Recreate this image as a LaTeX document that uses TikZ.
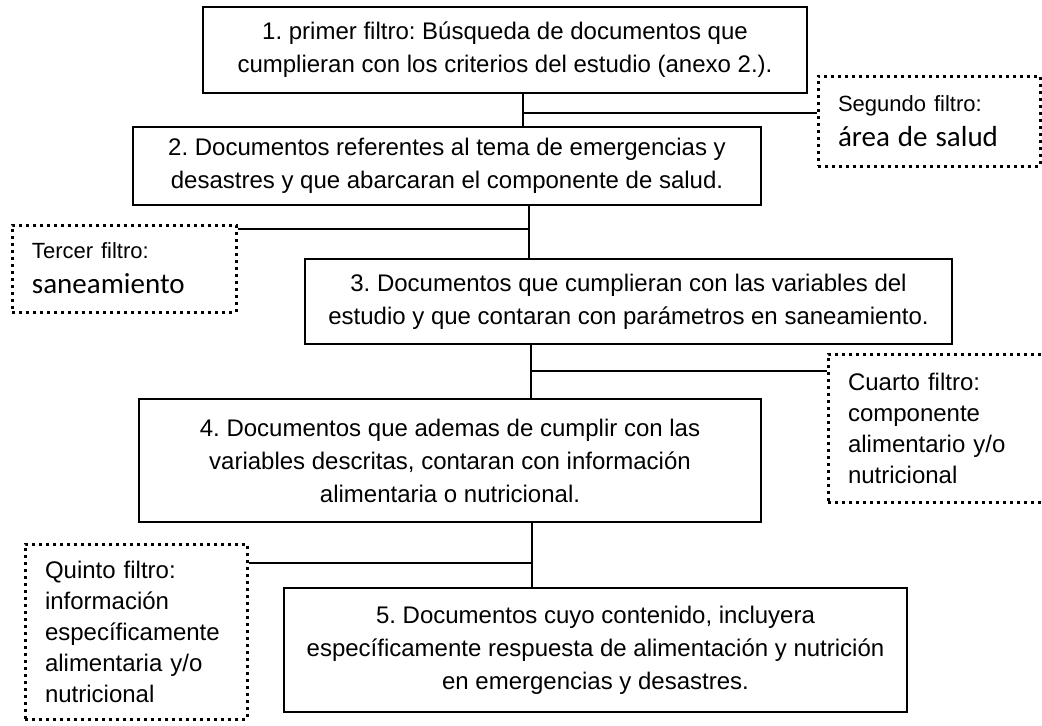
\documentclass[tikz,border=0pt]{standalone}
\usepackage{fontspec}
\setmainfont{Liberation Sans}
\newfontfamily\calfont{Carlito}
\usepackage{tikz}
\usetikzlibrary{
  calc,
  positioning,
}
\tikzstyle{stage} = [
  draw,
  line width=0.9pt,
  align=center,
  inner sep=0pt,
  font=\fontsize{12}{16.5}\selectfont,
]
\tikzstyle{filtro} = [
  draw,
  line width=1.5pt,
  dash pattern=on 1.5pt off 2pt,
  align=left,
  inner xsep=10pt,
  inner ysep=0pt,
  font=\fontsize{12}{15.5}\selectfont,
]
\tikzstyle{link} = [
  line width=0.9pt,
]
\newcommand{\filtrosmall}{\fontsize{11}{18}\selectfont}
\newcommand{\filtrobig}{\calfont\fontsize{14.5}{18}\selectfont}
\frenchspacing

\begin{document}
\begin{tikzpicture}[x=0.5pt, y=-0.5pt]

        \useasboundingbox (0,0) rectangle (1042,725);

        \node [stage, minimum width=302pt, minimum height=43pt] (paso1) at (505,50)
              {1. primer filtro: Búsqueda de documentos que\\cumplieran con los criterios del estudio (anexo 2.).};

        \node [stage, minimum width=314pt, minimum height=39pt] (paso2) at (447,166)
              {2. Documentos referentes al tema de emergencias y\\desastres y que abarcaran el componente de salud.};

        \node [stage, minimum width=323.5pt, minimum height=42.5pt] (paso3) at (628.5,301.5)
              {3. Documentos que cumplieran con las variables del\\estudio y que contaran con parámetros en saneamiento.};

        \node [stage, minimum width=311pt, minimum height=61.5pt] (paso4) at (450,460.5)
              {4. Documentos que ademas de cumplir con las\\variables descritas, contaran con información\\alimentaria o nutricional.};

        \node [stage, minimum width=311.5pt, minimum height=62pt] (paso5) at (595.5,650)
              {5. Documentos cuyo contenido, incluyera\\específicamente respuesta de alimentación y nutrición\\en emergencias y desastres.};

        \node [filtro, text width=91pt, minimum height=45pt] (filtro2) at (929,121)
              {{\filtrosmall Segundo filtro:}\\[2pt]{\filtrobig área de salud}};

        \node [filtro, text width=92pt, minimum height=43.5pt] (filtro3) at (124,268.5)
              {{\filtrosmall Tercer filtro:}\\[2pt]{\filtrobig saneamiento}};

        \node [filtro, text width=89pt, minimum height=74pt] (filtro4) at (937,428)
              {Cuarto filtro:\\componente\\alimentario y/o\\nutricional};

        \node [filtro, text width=91pt, minimum height=87.5pt] (filtro5) at (136,631.5)
              {Quinto filtro:\\información\\específicamente\\alimentaria y/o\\nutricional};

        \coordinate (cruce1) at (523,113);
        \coordinate (cruce2) at (529,229);
        \coordinate (cruce3) at (531,371);
        \coordinate (cruce4) at (532,563);

        \draw [link] (cruce1 |- paso1.south) -- (cruce1 |- paso2.north);
        \draw [link] (cruce1) -- (cruce1 -| filtro2.west);

        \draw [link] (cruce2 |- paso2.south) -- (cruce2 |- paso3.north);
        \draw [link] (cruce2) -- (cruce2 -| filtro3.east);

        \draw [link] (cruce3 |- paso3.south) -- (cruce3 |- paso4.north);
        \draw [link] (cruce3) -- (cruce3 -| filtro4.west);

        \draw [link] (cruce4 |- paso4.south) -- (cruce4 |- paso5.north);
        \draw [link] (cruce4) -- (cruce4 -| filtro5.east);
      \end{tikzpicture}
\end{document}
